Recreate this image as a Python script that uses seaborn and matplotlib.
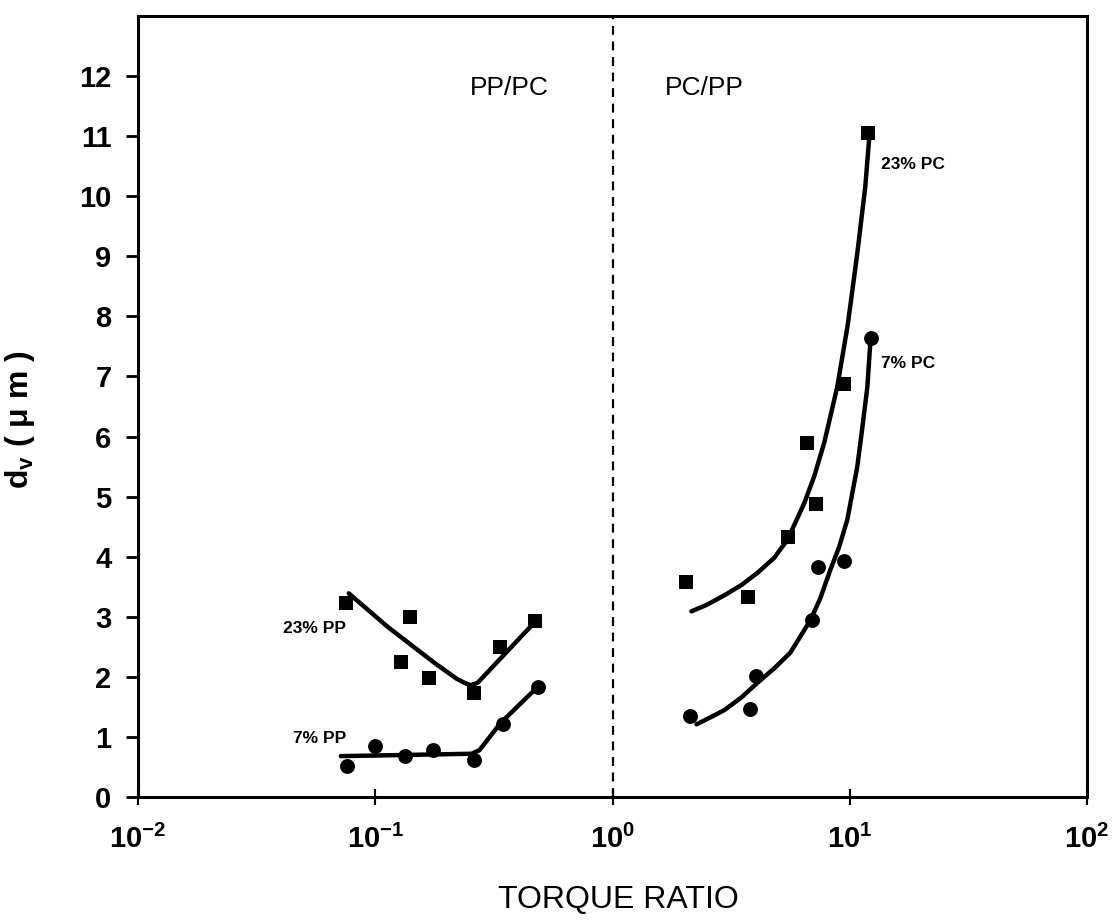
import numpy as np
import pandas as pd
import matplotlib
matplotlib.use("Agg")
import matplotlib.pyplot as plt
import seaborn as sns

# ---- data ----
pp23_x = [0.0752, 0.129, 0.1396, 0.169, 0.260, 0.334, 0.470]
pp23_y = [3.23, 2.25, 3.00, 1.98, 1.73, 2.50, 2.93]
pp23_fit_x = [0.0773, 0.113, 0.178, 0.220, 0.238, 0.252, 0.270, 0.470]
pp23_fit_y = [3.39, 2.83, 2.23, 1.97, 1.90, 1.86, 1.90, 2.91]

pp7_x = [0.0758, 0.0995, 0.134, 0.176, 0.262, 0.347, 0.483]
pp7_y = [0.52, 0.85, 0.68, 0.78, 0.62, 1.21, 1.83]
pp7_fit_x = [0.0716, 0.255, 0.275, 0.337, 0.483]
pp7_fit_y = [0.68, 0.72, 0.78, 1.23, 1.83]

pc23_x = [2.05, 3.74, 5.51, 6.62, 7.23, 9.48, 11.97]
pc23_y = [3.58, 3.33, 4.33, 5.89, 4.87, 6.87, 11.05]
pc23_fit_x = [2.15, 2.50, 2.97, 3.50, 4.08, 4.80, 5.46, 6.43, 7.10, 7.81, 8.85, 9.80, 10.76, 11.62, 12.08]
pc23_fit_y = [3.09, 3.20, 3.36, 3.53, 3.73, 3.98, 4.28, 4.89, 5.35, 5.90, 6.82, 7.85, 9.05, 10.15, 10.97]

pc7_x = [2.13, 3.78, 4.03, 6.95, 7.36, 9.48, 12.3]
pc7_y = [1.35, 1.46, 2.01, 2.94, 3.83, 3.93, 7.64]
pc7_fit_x = [2.26, 2.60, 2.97, 3.50, 4.08, 4.80, 5.61, 6.82, 7.50, 8.28, 9.00, 9.76, 10.76, 11.3, 11.86, 12.2]
pc7_fit_y = [1.21, 1.33, 1.45, 1.66, 1.90, 2.14, 2.40, 2.94, 3.30, 3.78, 4.15, 4.61, 5.50, 6.15, 6.82, 7.55]

y_ticks = list(range(0, 13))
x_ticks = [1e-2, 1e-1, 1e0, 1e1, 1e2]
x_tick_labels = [r"$\mathbf{10^{-2}}$", r"$\mathbf{10^{-1}}$", r"$\mathbf{10^{0}}$",
                 r"$\mathbf{10^{1}}$", r"$\mathbf{10^{2}}$"]

sns.set_theme(style="white")
plt.rcParams["font.family"] = ["Liberation Sans", "DejaVu Sans"]
plt.rcParams["mathtext.fontset"] = "custom"
plt.rcParams["mathtext.rm"] = "Liberation Sans"
plt.rcParams["mathtext.it"] = "Liberation Sans:italic"
plt.rcParams["mathtext.bf"] = "Liberation Sans:bold"
for k in ["text.color", "axes.labelcolor", "xtick.color", "ytick.color"]:
    plt.rcParams[k] = "black"

fig = plt.figure(figsize=(11.2, 9.24), dpi=100)
ax = fig.add_axes([138 / 1120, 1 - 797 / 924, (1087 - 138) / 1120, (797 - 16) / 924])
ax.set_xscale("log")

def df(x, y):
    return pd.DataFrame({"x": x, "y": y})

for fx, fy in [(pp23_fit_x, pp23_fit_y), (pp7_fit_x, pp7_fit_y),
               (pc23_fit_x, pc23_fit_y), (pc7_fit_x, pc7_fit_y)]:
    sns.lineplot(data=df(fx, fy), x="x", y="y", ax=ax, color="black",
                 linewidth=3.2, sort=False, estimator=None)

for px, py, mk, sz in [(pp23_x, pp23_y, "s", 105), (pc23_x, pc23_y, "s", 105),
                       (pp7_x, pp7_y, "o", 115), (pc7_x, pc7_y, "o", 115)]:
    sns.scatterplot(data=df(px, py), x="x", y="y", ax=ax, color="black",
                    marker=mk, s=sz, edgecolor="black", linewidth=0, zorder=5)

ax.axvline(1.0, color="black", linestyle=(0, (4, 3)), linewidth=1.6)

ax.set_xlim(1e-2, 1e2)
ax.set_ylim(0, 13)
ax.set_yticks(y_ticks)
ax.set_yticklabels([str(t) for t in y_ticks], fontsize=21, fontweight="bold")
ax.set_xticks(x_ticks)
ax.set_xticklabels(x_tick_labels, fontsize=21)
ax.xaxis.set_minor_locator(matplotlib.ticker.NullLocator())
ax.tick_params(axis="y", direction="out", length=9, width=2, left=True, pad=10)
ax.tick_params(axis="x", direction="inout", length=12, width=1.5, bottom=True, pad=14)
for s in ax.spines.values():
    s.set_linewidth(2.2)
    s.set_color("black")

ax.set_xlabel("TORQUE RATIO", fontsize=23)
ax.xaxis.set_label_coords((618 - 138) / 949, (797 - 900) / 781)
ax.xaxis.label.set_va("center")
ax.set_ylabel(r"d$_\mathbf{v}$ ( $\mathbf{\mu}$ m )", fontsize=23, fontweight="bold")
ax.yaxis.set_label_coords((37 - 138) / 949, (797 - 420) / 781)

ax.text(0.368, 11.8, "PP/PC", fontsize=19, ha="center", va="center")
ax.text(2.44, 11.8, "PC/PP", fontsize=19, ha="center", va="center")
ax.text(13.6, 10.52, "23% PC", fontsize=12.5, fontweight="bold", ha="left", va="center")
ax.text(13.6, 7.22, "7% PC", fontsize=12.5, fontweight="bold", ha="left", va="center")
ax.text(0.0755, 2.8, "23% PP", fontsize=12.5, fontweight="bold", ha="right", va="center")
ax.text(0.0755, 0.98, "7% PP", fontsize=12.5, fontweight="bold", ha="right", va="center")

fig.savefig("out.png", dpi=100)
